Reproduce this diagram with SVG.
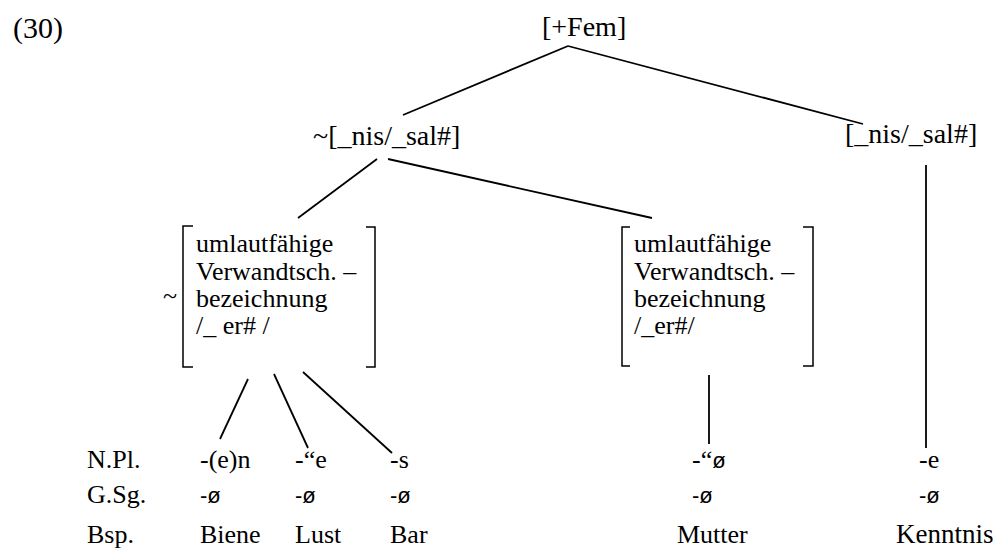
<svg xmlns="http://www.w3.org/2000/svg" width="1001" height="550" viewBox="0 0 1001 550">
<style>
text{font-family:"Liberation Serif","Times New Roman",serif;fill:#000}
.t{font-size:28px}
.b{font-size:26px}
.s{font-family:"Liberation Sans",Arial,sans-serif;font-size:22px}
.ln{stroke:#000;stroke-width:1.8;fill:none}
.br{stroke:#000;stroke-width:1.5;fill:none}
</style>
<rect width="1001" height="550" fill="#fff"/>
<text x="13" y="38" style="font-size:30px">(30)</text>
<g id="n-fem"><text class="t" x="542" y="36">[+Fem]</text></g>
<g id="n-notnis"><text class="t" x="313" y="145">~[_nis/_sal#]</text></g>
<g id="n-nis"><text class="t" x="845" y="143">[_nis/_sal#]</text></g>
<g id="n-box1">
<text class="b" x="163" y="304">~</text>
<path class="br" d="M193,226 H183 V367 H193"/>
<path class="br" d="M366,227 H375 V367 H366"/>
<text class="b" x="196" y="252">umlautfähige</text>
<text class="b" x="196" y="280">Verwandtsch. –</text>
<text class="b" x="196" y="307">bezeichnung</text>
<text class="b" x="196" y="334">/_ er# /</text>
</g>
<g id="n-box2">
<path class="br" d="M630,227 H622 V366 H630"/>
<path class="br" d="M803,227 H813 V366 H803"/>
<text class="b" x="634" y="252">umlautfähige</text>
<text class="b" x="634" y="280">Verwandtsch. –</text>
<text class="b" x="634" y="307">bezeichnung</text>
<text class="b" x="634" y="334">/_er#/</text>
</g>
<g id="labels">
<text class="b" x="87" y="468">N.Pl.</text>
<text class="b" x="87" y="503">G.Sg.</text>
<text class="b" x="87" y="543">Bsp.</text>
</g>
<g id="n-biene"><text class="b" x="200" y="468">-(e)n</text><text class="s" x="200" y="503">-ø</text><text class="b" x="200" y="543">Biene</text></g>
<g id="n-lust"><text class="b" x="295" y="468">-“e</text><text class="s" x="295" y="503">-ø</text><text class="b" x="295" y="543">Lust</text></g>
<g id="n-bar"><text class="b" x="390" y="468">-s</text><text class="s" x="390" y="503">-ø</text><text class="b" x="390" y="543">Bar</text></g>
<g id="n-mutter"><text class="b" x="692" y="468">-“<tspan class="s">ø</tspan></text><text class="s" x="692" y="503">-ø</text><text class="b" x="677" y="543">Mutter</text></g>
<g id="n-kenntnis"><text class="b" x="919" y="468">-e</text><text class="s" x="919" y="503">-ø</text><text class="b" x="896" y="543" style="font-size:27px">Kenntnis</text></g>
<g id="connectors">
<line class="ln" x1="568" y1="46" x2="403" y2="115"/>
<line class="ln" x1="568" y1="46" x2="863" y2="124"/>
<line class="ln" x1="377" y1="159" x2="298" y2="218"/>
<line class="ln" x1="388" y1="159" x2="652" y2="218"/>
<line class="ln" x1="926" y1="165" x2="926" y2="448"/>
<line class="ln" x1="709" y1="375" x2="709" y2="444"/>
<line class="ln" x1="248" y1="379" x2="220" y2="439"/>
<line class="ln" x1="274" y1="374" x2="308" y2="448"/>
<line class="ln" x1="303" y1="372" x2="392" y2="453"/>
</g>
</svg>
